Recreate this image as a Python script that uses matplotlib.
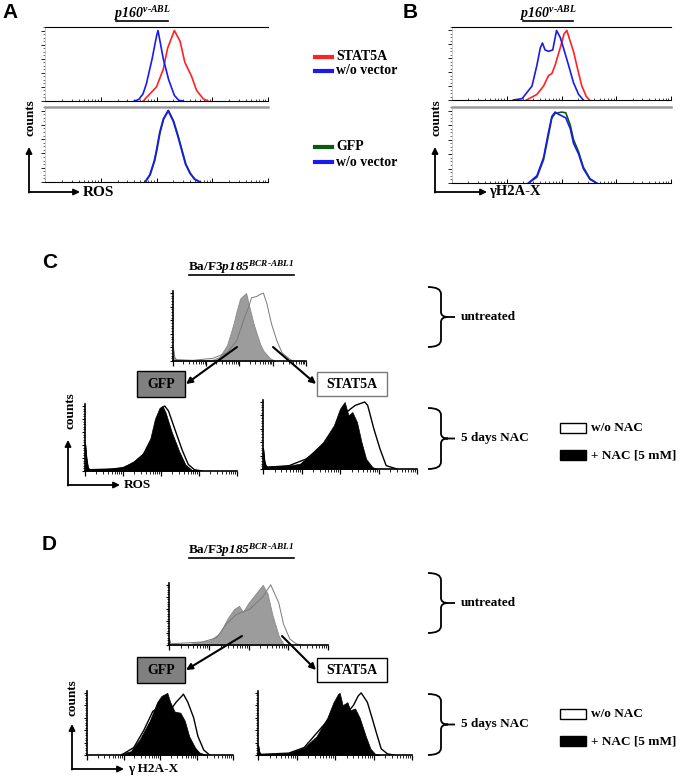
import matplotlib
matplotlib.use('Agg')
import matplotlib.pyplot as plt
import numpy as np
from matplotlib.patches import Rectangle, FancyArrowPatch, PathPatch
from matplotlib.path import Path
from matplotlib.lines import Line2D
from matplotlib.ticker import FixedLocator, MultipleLocator

plt.rcParams['font.family'] = ['Liberation Serif', 'DejaVu Serif']
plt.rcParams['font.weight'] = 'bold'
plt.rcParams['mathtext.fontset'] = 'custom'
plt.rcParams['mathtext.it'] = 'Liberation Serif:italic:bold'
plt.rcParams['mathtext.rm'] = 'Liberation Serif:italic:bold'
plt.rcParams['mathtext.bf'] = 'Liberation Serif:italic:bold'

# ---- data: x = fluorescence channel (0-1024, 4 log decades), y = counts ----
# panel A, p160 v-ABL, ROS
a_stat5a_x = [451, 466, 512, 543, 563, 594, 620, 642, 673, 696, 727, 748]
a_stat5a_y = [0, 5, 20, 45, 75, 100, 85, 55, 35, 15, 3, 0]
a_vec1_x = [410, 430, 450, 466, 492, 512, 519, 543, 568, 594, 614, 635]
a_vec1_y = [0, 2, 10, 25, 60, 92, 100, 60, 30, 8, 1, 0]
a_gfp_x = [461, 483, 504, 514, 529, 545, 567, 591, 611, 629, 647, 668, 688, 713]
a_gfp_y = [0, 10, 30, 45, 70, 88, 100, 85, 65, 45, 25, 12, 4, 0]
a_vec2_x = [459, 481, 502, 512, 527, 543, 565, 589, 609, 627, 645, 666, 686, 711]
a_vec2_y = [0, 10, 30, 45, 70, 88, 100, 85, 65, 45, 25, 12, 4, 0]

# panel B, p160 v-ABL, gamma H2A-X
b_stat5a_x = [348, 397, 428, 451, 467, 482, 506, 524, 537, 552, 568, 587, 607, 628, 643]
b_stat5a_y = [0, 8, 20, 35, 38, 50, 75, 95, 100, 85, 70, 45, 20, 5, 0]
b_vec1_x = [287, 328, 374, 397, 413, 423, 435, 451, 471, 489, 506, 521, 545, 568, 592, 614]
b_vec1_y = [0, 2, 20, 50, 75, 82, 72, 70, 72, 100, 90, 75, 50, 25, 8, 0]
b_ch2_x = [358, 397, 428, 451, 467, 482, 498, 512, 532, 553, 568, 592, 614, 645, 676]
b_gfp_y = [0, 8, 32, 66, 90, 96, 97, 98, 97, 80, 60, 43, 22, 6, 0]
b_vec2_y = [0, 10, 35, 70, 92, 98, 95, 93, 90, 75, 55, 40, 20, 5, 0]

# panel C, Ba/F3 p185 BCR-ABL1, ROS
c_top_gfp_x = [2, 12, 26, 154, 307, 358, 415, 440, 466, 492, 517, 563, 594, 620, 645, 671, 696, 748, 788]
c_top_gfp_y = [18, 5, 2, 1, 2, 6, 23, 38, 55, 75, 92, 100, 75, 55, 40, 25, 15, 4, 0]
c_top_stat_x = [2, 12, 26, 154, 307, 415, 492, 543, 584, 604, 645, 671, 696, 722, 758, 799, 840, 891, 922]
c_top_stat_y = [18, 5, 2, 1, 4, 12, 30, 60, 80, 93, 95, 98, 100, 85, 55, 30, 12, 4, 0]
c_gfp_nac_x = [2, 10, 20, 31, 184, 256, 328, 389, 440, 471, 502, 522, 543, 584, 635, 676, 717, 768]
c_gfp_nac_y = [41, 20, 5, 2, 4, 6, 15, 27, 50, 80, 97, 100, 90, 60, 30, 10, 2, 0]
c_gfp_wo_x = [2, 10, 20, 31, 184, 256, 328, 389, 450, 481, 512, 537, 563, 604, 655, 696, 737, 788]
c_gfp_wo_y = [41, 20, 5, 2, 3, 5, 12, 24, 45, 75, 95, 100, 92, 65, 32, 10, 2, 0]
c_stat_nac_x = [2, 10, 20, 31, 51, 174, 246, 307, 399, 471, 512, 543, 568, 594, 625, 655, 686, 727, 758]
c_stat_nac_y = [30, 12, 4, 3, 4, 5, 8, 20, 40, 65, 90, 100, 80, 85, 70, 40, 15, 3, 0]
c_stat_wo_x = [2, 10, 20, 31, 51, 174, 287, 399, 492, 532, 584, 614, 676, 696, 737, 778, 819, 891]
c_stat_wo_y = [30, 12, 4, 3, 3, 5, 15, 35, 60, 80, 90, 95, 100, 95, 60, 30, 5, 0]

# panel D, Ba/F3 p185 BCR-ABL1, gamma H2A-X
d_top_gfp_x = [2, 10, 133, 266, 328, 379, 420, 451, 476, 512, 543, 573, 604, 635, 666, 707, 737, 758]
d_top_gfp_y = [10, 2, 2, 8, 20, 45, 60, 65, 55, 70, 80, 90, 100, 85, 50, 15, 2, 0]
d_top_stat_x = [2, 10, 215, 307, 369, 430, 522, 604, 655, 707, 737, 778, 819, 860]
d_top_stat_y = [10, 2, 5, 12, 35, 50, 60, 80, 100, 70, 35, 10, 2, 0]
d_gfp_nac_x = [236, 307, 369, 440, 492, 522, 563, 584, 614, 655, 686, 717, 758, 788, 840]
d_gfp_nac_y = [2, 6, 25, 55, 85, 95, 100, 85, 70, 68, 55, 30, 12, 4, 0]
d_gfp_wo_x = [256, 328, 399, 461, 532, 594, 625, 666, 676, 707, 748, 778, 819, 860]
d_gfp_wo_y = [2, 12, 40, 70, 82, 75, 85, 95, 98, 85, 60, 30, 8, 0]
d_stat_nac_x = [2, 10, 20, 205, 307, 389, 461, 502, 532, 543, 563, 594, 614, 645, 676, 717, 748, 778, 809]
d_stat_nac_y = [15, 4, 1, 3, 12, 30, 60, 85, 98, 100, 80, 85, 72, 75, 60, 30, 10, 2, 0]
d_stat_wo_x = [2, 10, 20, 205, 307, 461, 522, 594, 635, 666, 686, 727, 758, 788, 819, 860, 901]
d_stat_wo_y = [15, 4, 1, 3, 12, 55, 65, 68, 80, 95, 100, 85, 60, 35, 10, 2, 0]

RED, BLUE, GREEN = '#ff2222', '#1a1aee', '#0c5a12'
HY = '\u2010'  # typographic hyphen (mathtext would turn '-' into a minus)
TITLE_AB = '$p160^{v' + HY + 'ABL}$'
TITLE_CD = 'Ba/F3$p185^{BCR' + HY + 'ABL1}$'

W, H = 681, 776
fig = plt.figure(figsize=(W / 100, H / 100), dpi=100)


def fx(x):
    return x / W


def fy(y):
    return 1 - y / H


def add_ax(x0, y0, x1, y1):
    return fig.add_axes([fx(x0), fy(y1), (x1 - x0) / W, (y1 - y0) / H])


# log-decade tick positions in channel units
major_ticks = [d * 256 for d in range(5)]
minor_ticks = [d * 256 + 256 * np.log10(k) for d in range(4) for k in range(2, 10)]


def style_ab(ax, top_color, top_lw):
    ax.set_xlim(0, 1024)
    ax.set_ylim(0, 105)
    ax.spines['right'].set_visible(False)
    ax.spines['top'].set_color(top_color)
    ax.spines['top'].set_linewidth(top_lw)
    ax.spines['left'].set_color('#c8c8c8')
    ax.spines['left'].set_linewidth(0.6)
    ax.spines['bottom'].set_linewidth(0.8)
    ax.xaxis.set_major_locator(FixedLocator(major_ticks))
    ax.xaxis.set_minor_locator(FixedLocator(minor_ticks))
    ax.yaxis.set_major_locator(MultipleLocator(20))
    ax.yaxis.set_minor_locator(MultipleLocator(5))
    ax.tick_params(which='both', labelbottom=False, labelleft=False)
    ax.tick_params(axis='x', which='major', direction='in', length=3, width=0.7)
    ax.tick_params(axis='x', which='minor', direction='in', length=1.5, width=0.5)
    ax.tick_params(axis='y', which='major', direction='out', length=3, width=0.6)
    ax.tick_params(axis='y', which='minor', direction='out', length=1.2, width=0.4)


def style_cd(ax):
    ax.set_xlim(0, 1024)
    ax.set_ylim(0, 103)
    ax.spines['right'].set_visible(False)
    ax.spines['top'].set_visible(False)
    ax.spines['left'].set_linewidth(1.2)
    ax.spines['bottom'].set_linewidth(1.2)
    ax.xaxis.set_major_locator(FixedLocator(major_ticks))
    ax.xaxis.set_minor_locator(FixedLocator(minor_ticks))
    ax.yaxis.set_major_locator(MultipleLocator(20))
    ax.yaxis.set_minor_locator(MultipleLocator(4))
    ax.tick_params(which='both', labelbottom=False, labelleft=False)
    ax.tick_params(axis='x', which='major', direction='out', length=3.5, width=0.9)
    ax.tick_params(axis='x', which='minor', direction='out', length=2, width=0.6)
    ax.tick_params(axis='y', which='major', direction='out', length=2.5, width=0.8)
    ax.tick_params(axis='y', which='minor', direction='out', length=1.5, width=0.6)


def text(x, y, s, size=9.5, ha='left', va='center', **kw):
    fig.text(fx(x), fy(y), s, ha=ha, va=va, fontsize=size, fontweight='bold', **kw)


def hline(x0, x1, y, color='black', lw=1.2):
    fig.add_artist(Line2D([fx(x0), fx(x1)], [fy(y), fy(y)], color=color, lw=lw,
                          transform=fig.transFigure))


def arrow(x0, y0, x1, y1, lw=1.3, ms=9):
    fig.add_artist(FancyArrowPatch((fx(x0), fy(y0)), (fx(x1), fy(y1)),
                                   transform=fig.transFigure, arrowstyle='-|>',
                                   mutation_scale=ms, lw=lw, color='black',
                                   shrinkA=0, shrinkB=0))


def axis_arrows(x, y, ytop, xright):
    arrow(x, y + 0.6, x, ytop)
    arrow(x, y, xright, y)


def box(x0, y0, x1, y1, face, edge, label):
    fig.add_artist(Rectangle((fx(x0), fy(y1)), (x1 - x0) / W, (y1 - y0) / H,
                             transform=fig.transFigure, facecolor=face,
                             edgecolor=edge, lw=1))
    if label:
        text((x0 + x1) / 2, (y0 + y1) / 2, label, size=10, ha='center')


def brace(top, bottom, x0=428, xv=441, xt=448, xe=455):
    tip = (top + bottom) / 2
    pts = [(x0, top), (xv, top), (xv, top + 7), (xv, tip - 5), (xv, tip), (xt, tip),
           (xe, tip), (xt, tip), (xv, tip), (xv, tip + 5), (xv, bottom - 7),
           (xv, bottom), (x0, bottom)]
    codes = [Path.MOVETO, Path.CURVE3, Path.CURVE3, Path.LINETO, Path.CURVE3, Path.CURVE3,
             Path.LINETO, Path.MOVETO, Path.CURVE3, Path.CURVE3, Path.LINETO,
             Path.CURVE3, Path.CURVE3]
    verts = [(fx(px), fy(py)) for px, py in pts]
    fig.add_artist(PathPatch(Path(verts, codes), transform=fig.transFigure,
                             facecolor='none', edgecolor='black', lw=1.3))


# ---------------- panel A ----------------
ax = add_ax(45, 27, 268, 101)
style_ab(ax, 'black', 0.8)
ax.plot(a_stat5a_x, a_stat5a_y, color=RED, lw=1.2)
ax.plot(a_vec1_x, a_vec1_y, color=BLUE, lw=1.2)

ax = add_ax(45, 107, 268, 182)
style_ab(ax, '#9a9a9a', 1.8)
ax.plot(a_gfp_x, a_gfp_y, color=GREEN, lw=1.2)
ax.plot(a_vec2_x, a_vec2_y, color=BLUE, lw=1.2)

text(2, 13, 'A', size=15, family='Liberation Sans')
text(142, 14, TITLE_AB, size=10, ha='center')
hline(116, 168, 21)
text(31, 118, 'counts', size=9.5, ha='center', rotation=90)
axis_arrows(29, 192, 147, 80)
text(83, 192, 'ROS', size=11)

# legends between A and B
for y, c, lab in [(57, RED, 'STAT5A'), (71, BLUE, 'w/o vector'),
                  (147, GREEN, 'GFP'), (162, BLUE, 'w/o vector')]:
    hline(315, 332, y, color=c, lw=3)
    text(336, y, lab, size=10)

# ---------------- panel B ----------------
ax = add_ax(452, 27, 671, 100)
style_ab(ax, 'black', 0.8)
ax.plot(b_stat5a_x, b_stat5a_y, color=RED, lw=1.2)
ax.plot(b_vec1_x, b_vec1_y, color=BLUE, lw=1.2)

ax = add_ax(452, 107, 671, 183)
style_ab(ax, '#9a9a9a', 1.8)
ax.plot(b_ch2_x, b_gfp_y, color=GREEN, lw=1.2)
ax.plot(b_ch2_x, b_vec2_y, color=BLUE, lw=1.2)

text(403, 13, 'B', size=15, family='Liberation Sans')
text(548, 14, TITLE_AB, size=10, ha='center')
hline(523, 573, 21)
text(437, 118, 'counts', size=9.5, ha='center', rotation=90)
axis_arrows(435, 192, 147, 487)
text(489, 192, '\u03b3H2A-X', size=10.5)


# ---------------- panels C and D ----------------
def panel(y_off, top_gfp, top_stat, gfp_nac, gfp_wo, stat_nac, stat_wo,
          letter, xlabel, counts_x, arrow_x, stat_edge,
          top_box, bl_box, br_box, title_y, split_starts):
    # untreated
    ax = add_ax(*top_box)
    style_cd(ax)
    ax.fill_between(top_gfp[0], top_gfp[1], color='#9c9c9c', lw=0.6, edgecolor='#8a8a8a')
    ax.plot(top_stat[0], top_stat[1], color='#7a7a7a', lw=0.7)
    # 5 days NAC, GFP
    ax = add_ax(*bl_box)
    style_cd(ax)
    ax.fill_between(gfp_wo[0], gfp_wo[1], color='white', lw=0)
    ax.plot(gfp_wo[0], gfp_wo[1], color='black', lw=1)
    ax.fill_between(gfp_nac[0], gfp_nac[1], color='black', lw=0.5, edgecolor='black')
    # 5 days NAC, STAT5A
    ax = add_ax(*br_box)
    style_cd(ax)
    ax.fill_between(stat_wo[0], stat_wo[1], color='white', lw=0)
    ax.plot(stat_wo[0], stat_wo[1], color='black', lw=1)
    ax.fill_between(stat_nac[0], stat_nac[1], color='black', lw=0.5, edgecolor='black')

    text(42, title_y - 5, letter, size=15, family='Liberation Sans')
    text(241, title_y, TITLE_CD, size=9.5, ha='center')
    hline(189, 294, title_y + 8)

    box(137, y_off + 371, 185, y_off + 397, '#808080', 'black', 'GFP')
    box(317, y_off + 372, 387, y_off + 396, 'white', stat_edge, 'STAT5A')
    (lx, ly), (rx, ry) = split_starts
    arrow(lx, ly, 186, y_off + 384, lw=1.5)
    arrow(rx, ry, 316, y_off + 384, lw=1.5)

    brace(y_off + 287, y_off + 347)
    text(461, y_off + 317, 'untreated', size=9.5)
    brace(y_off + 408, y_off + 469)
    text(461, y_off + 438, '5 days NAC', size=9.5)

    box(560, y_off + 423, 586, y_off + 433, 'white', 'black', None)
    text(591, y_off + 428, 'w/o NAC', size=9.5)
    box(560, y_off + 450, 586, y_off + 460, 'black', 'black', None)
    text(591, y_off + 455, '+ NAC [5 mM]', size=9.5)

    text(counts_x, bl_box[1] + 7, 'counts', size=9.5, ha='center', rotation=90)
    ax_y = bl_box[3] + 14
    axis_arrows(arrow_x, ax_y, bl_box[3] - 31, arrow_x + 52)
    text(arrow_x + 56, ax_y, xlabel, size=9.5)


panel(0, (c_top_gfp_x, c_top_gfp_y), (c_top_stat_x, c_top_stat_y),
      (c_gfp_nac_x, c_gfp_nac_y), (c_gfp_wo_x, c_gfp_wo_y),
      (c_stat_nac_x, c_stat_nac_y), (c_stat_wo_x, c_stat_wo_y),
      'C', 'ROS', 70, 68, '#7a7a7a',
      (173, 291, 306, 361), (85, 404, 237, 471), (263, 400, 417, 469),
      267, ((237, 347), (273, 347)))

panel(286, (d_top_gfp_x, d_top_gfp_y), (d_top_stat_x, d_top_stat_y),
      (d_gfp_nac_x, d_gfp_nac_y), (d_gfp_wo_x, d_gfp_wo_y),
      (d_stat_nac_x, d_stat_nac_y), (d_stat_wo_x, d_stat_wo_y),
      'D', '\u03b3 H2A-X', 72, 72, 'black',
      (169, 583, 328, 645), (87, 691, 233, 755), (258, 691, 412, 755),
      550, ((242, 636), (282, 636)))

fig.savefig('out.png', dpi=100)
